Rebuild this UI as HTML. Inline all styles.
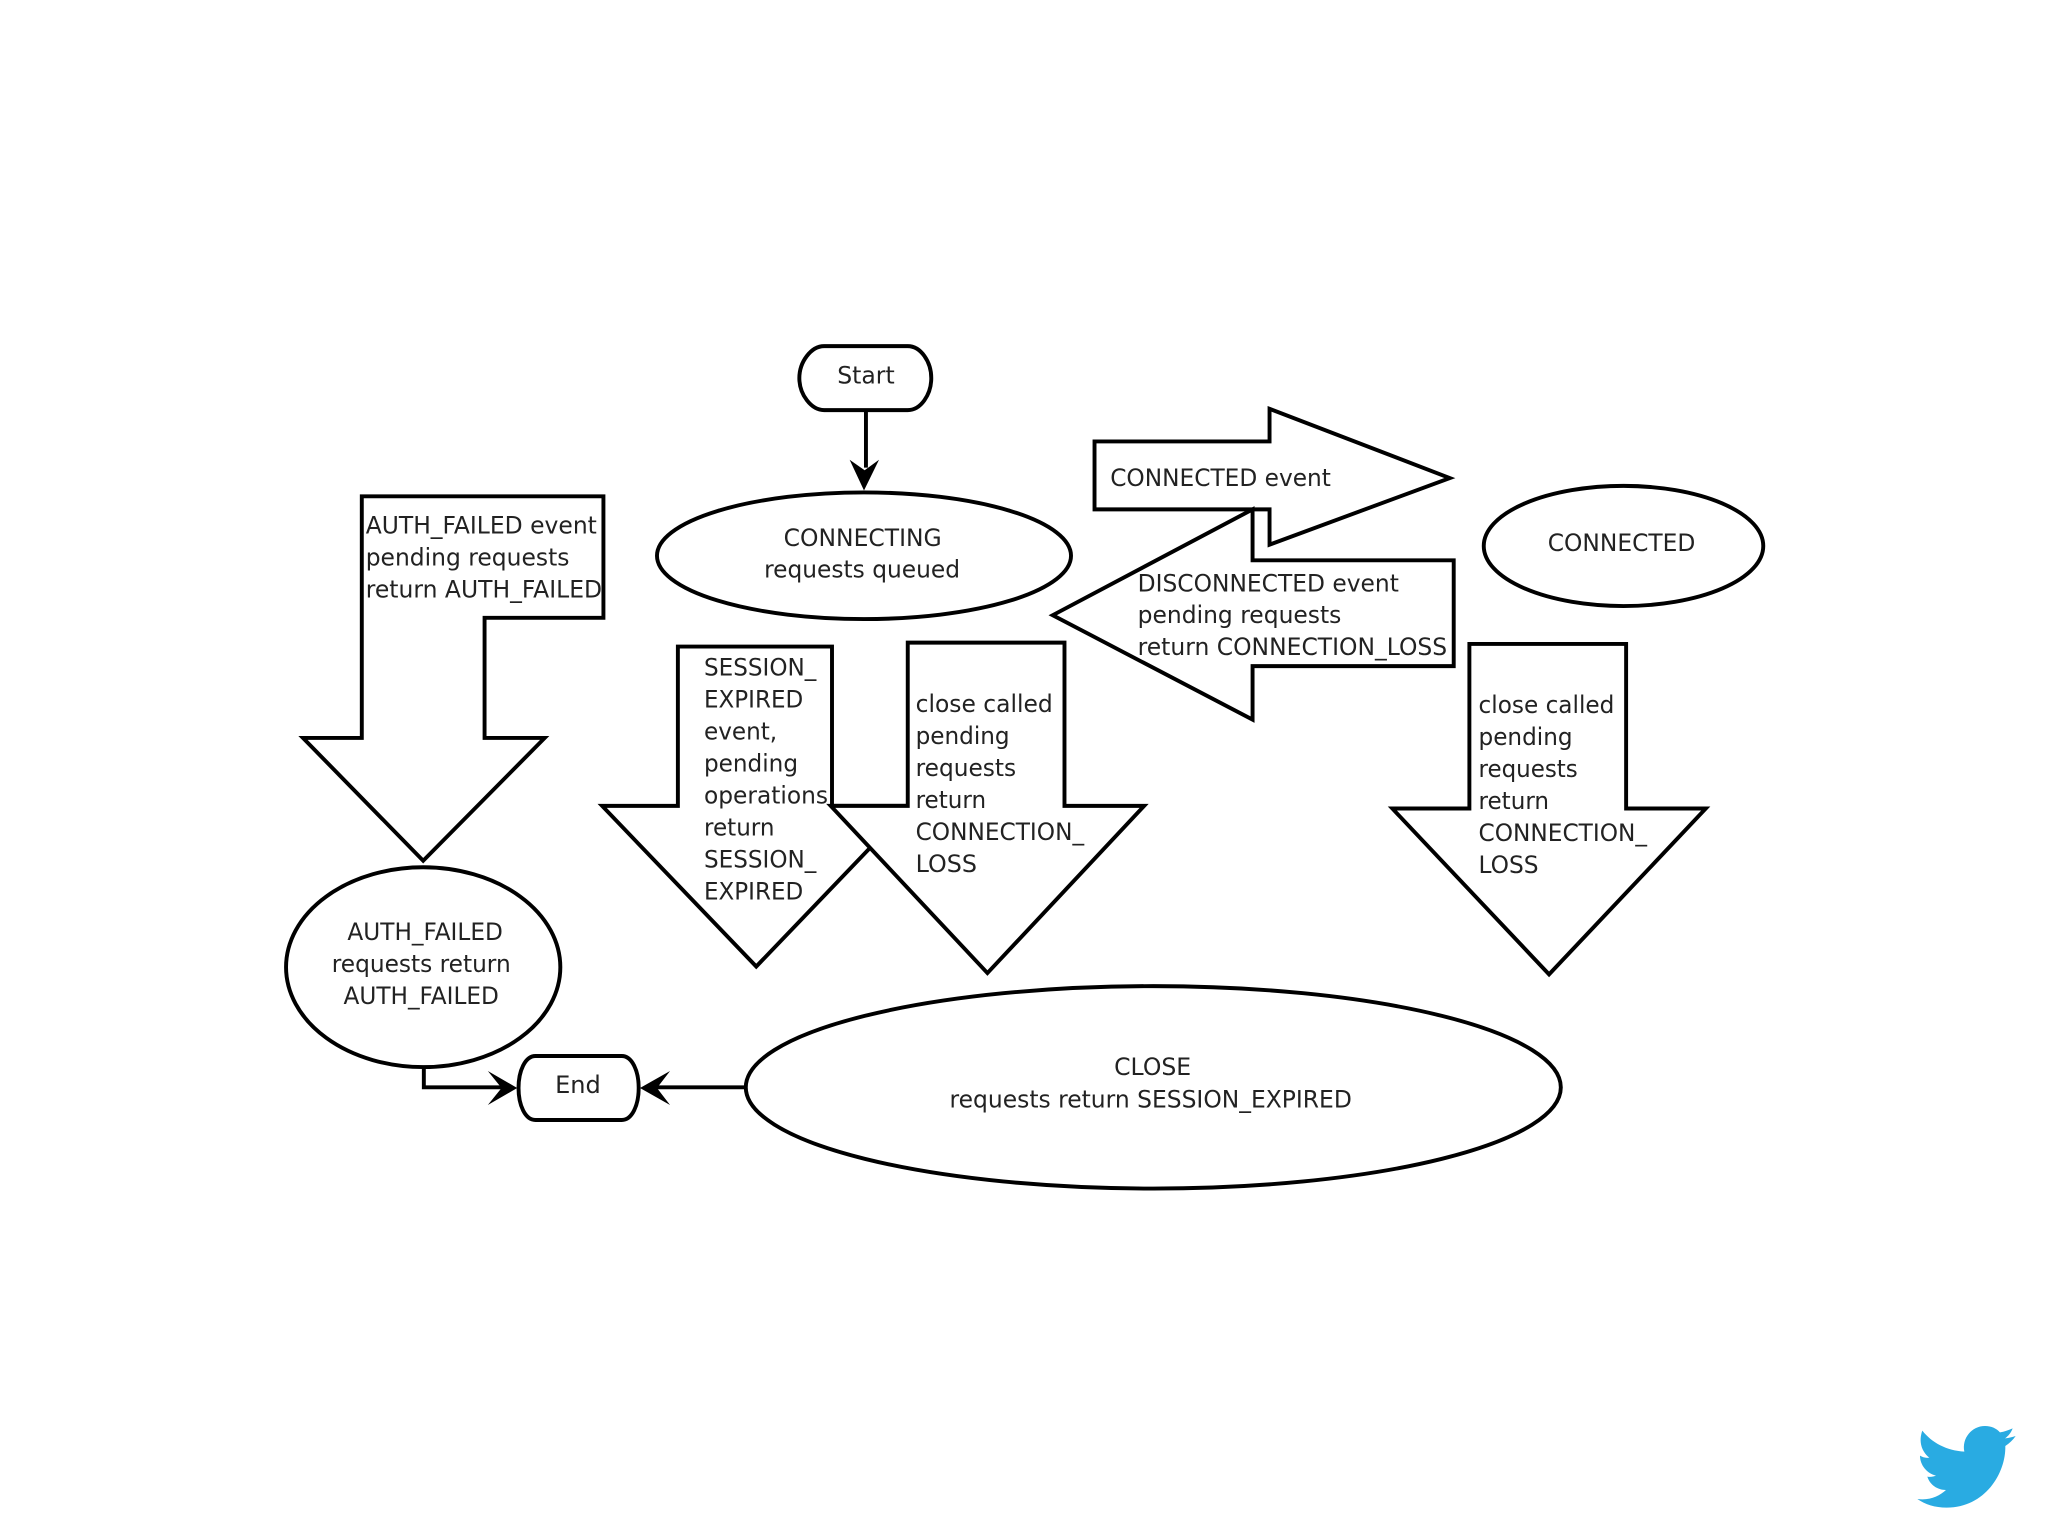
<!DOCTYPE html>
<html><head><meta charset="utf-8"><style>
html,body{margin:0;padding:0;background:#fff;width:2048px;height:1536px;overflow:hidden}
svg{display:block}
.s{fill:#fff;stroke:#000;stroke-width:3;stroke-linejoin:miter;stroke-miterlimit:10}
.l{fill:none;stroke:#000;stroke-width:3}
text{font-family:"DejaVu Sans","Liberation Sans",sans-serif;font-size:18.5px;fill:#222}
</style></head><body>
<svg xmlns="http://www.w3.org/2000/svg" width="2048" height="1536" viewBox="0 0 2048 1536">
<rect width="2048" height="1536" fill="#fff"/>
<g transform="scale(1.30612)">
<path class="s" d="M631,265H695C705,265 713,277 713,289.500C713,302 705,314 695,314H631C621,314 612,302 612,289.500C612,277 621,265 631,265Z"/>
<path class="l" d="M663,314V358"/>
<polygon points="661.500,375.500 650.500,352 662,360 673,352" fill="#000"/>
<ellipse class="s" cx="661.5" cy="425.5" rx="158.5" ry="48.5"/>
<polygon class="s" points="277,380 462,380 462,473 371,473 371,565 417,565 324,659 232,565 277,565"/>
<polygon class="s" points="519,495 637,495 637,617 697,617 579,740 461,617 519,617"/>
<polygon class="s" points="695,492 815,492 815,617 876,617 756,745 636,617 695,617"/>
<polygon class="s" points="1125,493 1245,493 1245,619 1306,619 1186,746 1066,619 1125,619"/>
<polygon class="s" points="838,338 972,338 972,313 1110,366 972,417 972,390 838,390"/>
<polygon class="s" points="806,471 959,390 959,429 1113,429 1113,510 959,510 959,551"/>
<ellipse class="s" cx="1243" cy="418" rx="107" ry="46"/>
<ellipse class="s" cx="324" cy="740.5" rx="105" ry="76.5"/>
<ellipse class="s" cx="883" cy="832.5" rx="312" ry="77.5"/>
<path class="l" d="M324.5,817V832.500H385"/>
<path class="l" d="M571,832.500H503"/>
<path class="s" d="M410,808.500H476C484,808.500 489,820 489,833C489,846 484,857.500 476,857.500H410C402,857.500 397,846 397,833C397,820 402,808.500 410,808.500Z"/>
<polygon points="396,833 373.500,820 384,833 373.500,846" fill="#000"/>
<polygon points="490,833 513,820 503,833 513,846" fill="#000"/>

<text x="641" y="293.500" textLength="44" lengthAdjust="spacingAndGlyphs">Start</text>
<text x="600" y="418" textLength="121" lengthAdjust="spacingAndGlyphs">CONNECTING</text>
<text x="585" y="442" textLength="150" lengthAdjust="spacingAndGlyphs">requests queued</text>
<text x="280" y="408.500" textLength="177" lengthAdjust="spacingAndGlyphs">AUTH_FAILED event</text>
<text x="280" y="433" textLength="156" lengthAdjust="spacingAndGlyphs">pending requests</text>
<text x="280" y="457.500" textLength="181" lengthAdjust="spacingAndGlyphs">return AUTH_FAILED</text>
<text x="850" y="372" textLength="169" lengthAdjust="spacingAndGlyphs">CONNECTED event</text>
<text x="871" y="453" textLength="200" lengthAdjust="spacingAndGlyphs">DISCONNECTED event</text>
<text x="871" y="477" textLength="156" lengthAdjust="spacingAndGlyphs">pending requests</text>
<text x="871" y="501.500" textLength="237" lengthAdjust="spacingAndGlyphs">return CONNECTION_LOSS</text>
<text x="1185" y="422" textLength="113" lengthAdjust="spacingAndGlyphs">CONNECTED</text>
<text x="539" y="517" textLength="86" lengthAdjust="spacingAndGlyphs">SESSION_</text>
<text x="539" y="541.500" textLength="76" lengthAdjust="spacingAndGlyphs">EXPIRED</text>
<text x="539" y="566" textLength="56" lengthAdjust="spacingAndGlyphs">event,</text>
<text x="539" y="590.500" textLength="72" lengthAdjust="spacingAndGlyphs">pending</text>
<text x="539" y="615" textLength="95" lengthAdjust="spacingAndGlyphs">operations</text>
<text x="539" y="639.500" textLength="54" lengthAdjust="spacingAndGlyphs">return</text>
<text x="539" y="664" textLength="86" lengthAdjust="spacingAndGlyphs">SESSION_</text>
<text x="539" y="688.500" textLength="76" lengthAdjust="spacingAndGlyphs">EXPIRED</text>
<text x="701" y="545" textLength="105" lengthAdjust="spacingAndGlyphs">close called</text>
<text x="701" y="569.500" textLength="72" lengthAdjust="spacingAndGlyphs">pending</text>
<text x="701" y="594" textLength="77" lengthAdjust="spacingAndGlyphs">requests</text>
<text x="701" y="618.500" textLength="54" lengthAdjust="spacingAndGlyphs">return</text>
<text x="701" y="643" textLength="129" lengthAdjust="spacingAndGlyphs">CONNECTION_</text>
<text x="701" y="667.500" textLength="47" lengthAdjust="spacingAndGlyphs">LOSS</text>
<text x="1132" y="546" textLength="104" lengthAdjust="spacingAndGlyphs">close called</text>
<text x="1132" y="570.500" textLength="72" lengthAdjust="spacingAndGlyphs">pending</text>
<text x="1132" y="595" textLength="76" lengthAdjust="spacingAndGlyphs">requests</text>
<text x="1132" y="619.500" textLength="54" lengthAdjust="spacingAndGlyphs">return</text>
<text x="1132" y="644" textLength="129" lengthAdjust="spacingAndGlyphs">CONNECTION_</text>
<text x="1132" y="668.500" textLength="46" lengthAdjust="spacingAndGlyphs">LOSS</text>
<text x="266" y="719.500" textLength="119" lengthAdjust="spacingAndGlyphs">AUTH_FAILED</text>
<text x="254" y="744" textLength="137" lengthAdjust="spacingAndGlyphs">requests return</text>
<text x="263" y="768.500" textLength="119" lengthAdjust="spacingAndGlyphs">AUTH_FAILED</text>
<text x="425" y="837" textLength="35" lengthAdjust="spacingAndGlyphs">End</text>
<text x="853" y="823" textLength="59" lengthAdjust="spacingAndGlyphs">CLOSE</text>
<text x="727" y="848" textLength="308" lengthAdjust="spacingAndGlyphs">requests return SESSION_EXPIRED</text>
</g>
<g transform="translate(1900,1410) scale(0.3333)">
<path fill="#29abe2" d="M52,267C90,272 118,258 138,240C112,240 90,225 82,200C92,202 100,200 108,197C80,190 60,165 60,137C68,142 78,145 88,143C65,125 55,95 67,62C95,98 140,122 193,125C185,85 215,48 255,48C275,48 290,56 300,67C313,65 326,60 338,55C333,68 325,78 315,85C327,84 338,81 347,78C339,90 328,100 316,108C318,190 255,293 140,293C105,293 75,283 52,267Z"/>
</g>
</svg>
</body></html>
